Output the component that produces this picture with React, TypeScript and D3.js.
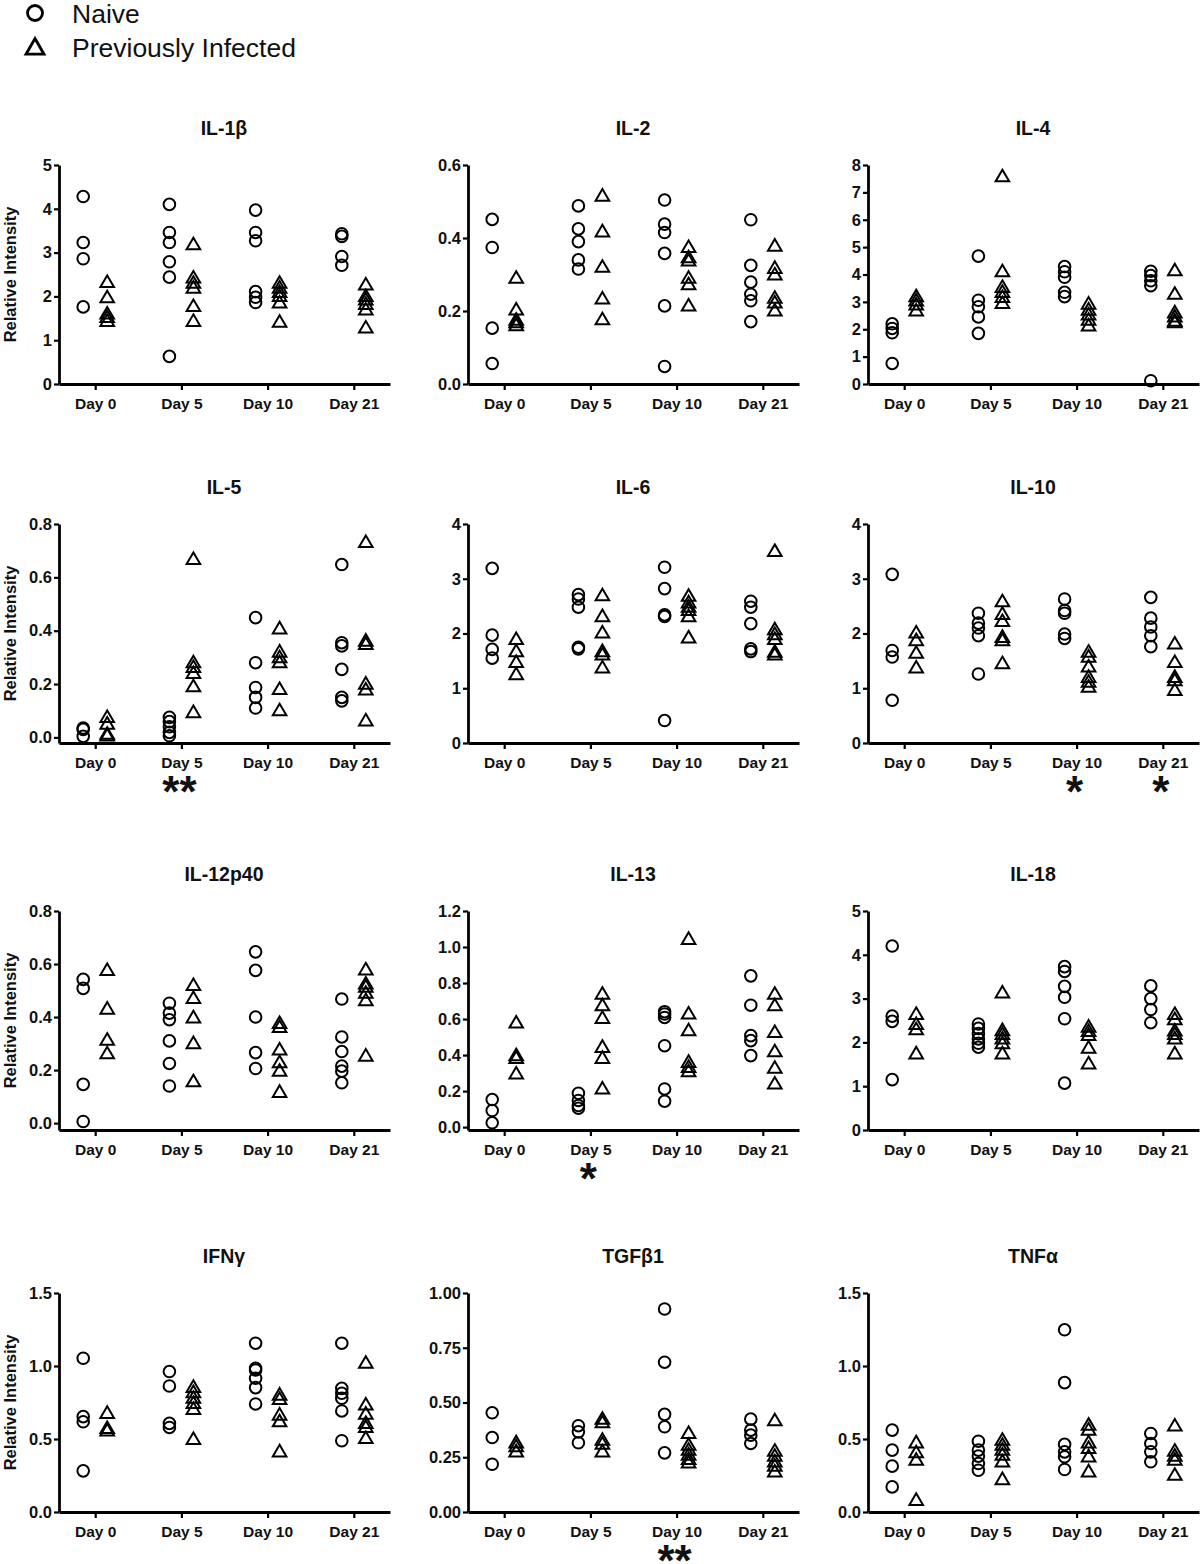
import React, { useEffect, useRef } from 'react';
import * as d3 from 'd3';

const DAYS = ['Day 0', 'Day 5', 'Day 10', 'Day 21'];
const GROUPS = ['Naive', 'Previously Infected'];

// values per day: [Day 0, Day 5, Day 10, Day 21]
const IL1B_NAIVE = [[4.28, 3.23, 2.86, 1.76], [4.10, 3.46, 3.23, 2.79, 2.44, 0.63], [3.97, 3.46, 3.27, 2.11, 1.98, 1.86], [3.43, 3.37, 2.91, 2.71]];
const IL1B_PREV = [[2.32, 1.97, 1.6, 1.52, 1.43], [3.18, 2.42, 2.30, 2.19, 1.77, 1.43], [2.30, 2.19, 2.09, 2.0, 1.85, 1.41], [2.26, 2.0, 1.92, 1.82, 1.69, 1.28]];

const IL2_NAIVE = [[0.451, 0.374, 0.153, 0.056], [0.488, 0.425, 0.39, 0.34, 0.315], [0.504, 0.438, 0.415, 0.358, 0.214, 0.048], [0.45, 0.325, 0.279, 0.246, 0.228, 0.171]];
const IL2_PREV = [[0.29, 0.203, 0.175, 0.168, 0.16], [0.515, 0.417, 0.32, 0.233, 0.176], [0.374, 0.346, 0.337, 0.29, 0.272, 0.214], [0.378, 0.317, 0.299, 0.235, 0.222, 0.2]];

const IL4_NAIVE = [[2.2, 2.03, 1.87, 0.75], [4.67, 3.06, 2.82, 2.45, 1.85], [4.29, 4.1, 3.9, 3.35, 3.19], [4.12, 3.96, 3.77, 3.59, 0.12]];
const IL4_PREV = [[3.19, 3.04, 2.89, 2.67], [7.57, 4.1, 3.53, 3.35, 3.16, 2.94], [2.92, 2.70, 2.52, 2.33, 2.12], [4.14, 3.28, 2.6, 2.45, 2.3, 2.24]];

const IL5_NAIVE = [[0.035, 0.03, 0.004], [0.075, 0.059, 0.04, 0.019, 0.006], [0.449, 0.28, 0.187, 0.15, 0.11], [0.648, 0.355, 0.343, 0.255, 0.15, 0.137]];
const IL5_PREV = [[0.075, 0.05, 0.012, 0.006], [0.667, 0.28, 0.262, 0.24, 0.19, 0.093], [0.407, 0.32, 0.299, 0.28, 0.18, 0.1], [0.731, 0.361, 0.349, 0.2, 0.178, 0.062]];

const IL6_NAIVE = [[3.19, 1.97, 1.71, 1.55], [2.71, 2.63, 2.48, 1.75, 1.72], [3.21, 2.82, 2.34, 2.31, 0.41], [2.59, 2.48, 2.18, 1.72, 1.67]];
const IL6_PREV = [[1.89, 1.67, 1.47, 1.25], [2.69, 2.31, 2.01, 1.67, 1.61, 1.37], [2.68, 2.56, 2.48, 2.42, 2.31, 1.92], [3.5, 2.07, 1.98, 1.89, 1.66, 1.61]];

const IL10_NAIVE = [[3.08, 1.69, 1.57, 0.78], [2.37, 2.19, 2.1, 1.96, 1.26], [2.63, 2.42, 2.37, 1.99, 1.91], [2.66, 2.28, 2.12, 1.96, 1.76]];
const IL10_PREV = [[2.01, 1.87, 1.64, 1.37], [2.58, 2.35, 2.22, 1.93, 1.87, 1.45], [1.66, 1.57, 1.39, 1.2, 1.11, 1.02], [1.81, 1.47, 1.2, 1.14, 0.96]];

const IL12_NAIVE = [[0.542, 0.508, 0.146, 0.006], [0.452, 0.415, 0.39, 0.31, 0.225, 0.14], [0.646, 0.576, 0.4, 0.266, 0.206], [0.468, 0.325, 0.27, 0.215, 0.196, 0.152]];
const IL12_PREV = [[0.576, 0.43, 0.313, 0.262], [0.519, 0.47, 0.397, 0.3, 0.156], [0.376, 0.361, 0.276, 0.228, 0.196, 0.116], [0.578, 0.525, 0.513, 0.49, 0.462, 0.253]];

const IL13_NAIVE = [[0.153, 0.092, 0.024], [0.188, 0.148, 0.12, 0.105], [0.641, 0.628, 0.609, 0.452, 0.212, 0.144], [0.84, 0.677, 0.508, 0.48, 0.397]];
const IL13_PREV = [[0.578, 0.397, 0.382, 0.295], [0.738, 0.674, 0.604, 0.443, 0.382, 0.212], [1.043, 0.628, 0.535, 0.36, 0.332, 0.308], [0.738, 0.674, 0.526, 0.419, 0.327, 0.24]];

const IL18_NAIVE = [[4.2, 2.6, 2.48, 1.15], [2.42, 2.32, 2.2, 2.08, 1.98, 1.89], [3.73, 3.62, 3.28, 3.03, 2.54, 1.07], [3.29, 3.0, 2.75, 2.45]];
const IL18_PREV = [[2.64, 2.41, 2.29, 1.74], [3.13, 2.27, 2.18, 2.08, 1.97, 1.74], [2.35, 2.25, 2.16, 1.87, 1.51], [2.64, 2.52, 2.26, 2.18, 2.08, 1.74]];

const IFNG_NAIVE = [[1.053, 0.653, 0.618, 0.282], [0.962, 0.863, 0.607, 0.579], [1.156, 0.985, 0.973, 0.916, 0.852, 0.74], [1.156, 0.847, 0.813, 0.779, 0.692, 0.488]];
const IFNG_PREV = [[0.676, 0.572, 0.556], [0.854, 0.818, 0.779, 0.744, 0.703, 0.497], [0.801, 0.771, 0.664, 0.618, 0.412], [1.019, 0.733, 0.671, 0.607, 0.579, 0.504]];

const TGFB_NAIVE = [[0.453, 0.34, 0.218], [0.394, 0.366, 0.316], [0.927, 0.684, 0.446, 0.389, 0.27], [0.424, 0.374, 0.351, 0.313]];
const TGFB_PREV = [[0.316, 0.298, 0.275], [0.424, 0.408, 0.328, 0.31, 0.275], [0.359, 0.305, 0.282, 0.26, 0.24, 0.224], [0.417, 0.278, 0.255, 0.229, 0.209, 0.183]];

const TNFA_NAIVE = [[0.561, 0.424, 0.314, 0.172], [0.485, 0.424, 0.383, 0.332, 0.286], [1.248, 0.886, 0.463, 0.412, 0.378, 0.291], [0.538, 0.469, 0.412, 0.344]];
const TNFA_PREV = [[0.474, 0.406, 0.355, 0.08], [0.492, 0.458, 0.424, 0.39, 0.344, 0.222], [0.595, 0.561, 0.474, 0.435, 0.378, 0.275], [0.589, 0.417, 0.383, 0.355, 0.252]];

const TITLES = ['IL-1β', 'IL-2', 'IL-4', 'IL-5', 'IL-6', 'IL-10', 'IL-12p40', 'IL-13', 'IL-18', 'IFNγ', 'TGFβ1', 'TNFα'];
const NAIVE = [IL1B_NAIVE, IL2_NAIVE, IL4_NAIVE, IL5_NAIVE, IL6_NAIVE, IL10_NAIVE, IL12_NAIVE, IL13_NAIVE, IL18_NAIVE, IFNG_NAIVE, TGFB_NAIVE, TNFA_NAIVE];
const PREV = [IL1B_PREV, IL2_PREV, IL4_PREV, IL5_PREV, IL6_PREV, IL10_PREV, IL12_PREV, IL13_PREV, IL18_PREV, IFNG_PREV, TGFB_PREV, TNFA_PREV];

const Y_TICKS = [
  [0, 1, 2, 3, 4, 5],
  [0, 0.2, 0.4, 0.6],
  [0, 1, 2, 3, 4, 5, 6, 7, 8],
  [0, 0.2, 0.4, 0.6, 0.8],
  [0, 1, 2, 3, 4],
  [0, 1, 2, 3, 4],
  [0, 0.2, 0.4, 0.6, 0.8],
  [0, 0.2, 0.4, 0.6, 0.8, 1.0, 1.2],
  [0, 1, 2, 3, 4, 5],
  [0, 0.5, 1.0, 1.5],
  [0, 0.25, 0.5, 0.75, 1.0],
  [0, 0.5, 1.0, 1.5],
];
const Y_FORMATS = ['d', '.1f', 'd', '.1f', 'd', 'd', '.1f', '.1f', 'd', '.1f', '.2f', '.1f'];
const Y_MIN = [0, 0, 0, -0.021, 0, 0, -0.026, -0.016, 0, 0, 0, 0];

const SIG_PANELS = ['IL-5', 'IL-10', 'IL-10', 'IL-13', 'TGFβ1'];
const SIG_DAYS = ['Day 5', 'Day 10', 'Day 21', 'Day 5', 'Day 10'];
const SIG_LABELS = ['**', '*', '*', '*', '**'];

const FONT = "'Liberation Sans', Arial, sans-serif";
const COL_X = [59, 468, 868];
const ROW_TOP = [165, 524, 911, 1293];
const PLOT_W = 331;
const PLOT_H = 219;

const TRI = 'M0,-7L6.8,4.6L-6.8,4.6Z';
const TRI_BIG = 'M0,-9.5L9,6.2L-9,6.2Z';

export default function App() {
  const ref = useRef<SVGSVGElement>(null);
  useEffect(() => {
    const svg = d3.select(ref.current);
    svg.selectAll('*').remove();
    svg.append('rect').attr('width', 1200).attr('height', 1564).attr('fill', '#fff');

    // legend
    const lg = svg.append('g');
    lg.append('circle').attr('cx', 35).attr('cy', 13).attr('r', 7.5)
      .attr('fill', 'none').attr('stroke', '#000').attr('stroke-width', 2.8);
    lg.append('path').attr('d', TRI_BIG).attr('transform', 'translate(35,48)')
      .attr('fill', 'none').attr('stroke', '#000').attr('stroke-width', 2.8).attr('stroke-linejoin', 'miter');
    GROUPS.forEach((g, i) => {
      lg.append('text').attr('x', 72).attr('y', 23 + i * 34).text(g)
        .attr('font-family', FONT).attr('font-size', 26.5).attr('fill', '#111');
    });

    TITLES.forEach((title, pi) => {
      const col = pi % 3;
      const row = Math.floor(pi / 3);
      const x0 = COL_X[col];
      const top = ROW_TOP[row];
      const bottom = top + PLOT_H;
      const ticks = Y_TICKS[pi];
      const yMax = ticks[ticks.length - 1];
      const y = d3.scaleLinear().domain([Y_MIN[pi], yMax]).range([bottom, top]);
      const x = d3.scalePoint<string>().domain(DAYS).range([x0, x0 + PLOT_W]).padding(0.42);
      const g = svg.append('g');

      // title
      g.append('text').attr('x', x0 + 165).attr('y', top - 30).attr('text-anchor', 'middle')
        .attr('font-family', FONT).attr('font-weight', 'bold').attr('font-size', 19.5).attr('fill', '#111')
        .text(title);

      // y axis
      const ya = g.append('g').attr('transform', `translate(${x0},0)`)
        .call(d3.axisLeft(y).tickValues(ticks).tickFormat(d3.format(Y_FORMATS[pi]) as any).tickSize(5).tickSizeOuter(0).tickPadding(2));
      ya.select('.domain').attr('stroke', '#000').attr('stroke-width', 2.8);
      ya.selectAll('.tick line').attr('stroke', '#000').attr('stroke-width', 2.2);
      ya.selectAll('.tick text').attr('font-family', FONT).attr('font-weight', 'bold').attr('font-size', 16.5).attr('fill', '#111');

      // x axis
      const xa = g.append('g').attr('transform', `translate(0,${bottom})`)
        .call(d3.axisBottom(x).tickSize(6).tickSizeOuter(0).tickPadding(8));
      xa.select('.domain').attr('stroke', '#000').attr('stroke-width', 2.8);
      xa.selectAll('.tick line').attr('stroke', '#000').attr('stroke-width', 2.2);
      xa.selectAll('.tick text').attr('font-family', FONT).attr('font-weight', 'bold').attr('font-size', 15.5).attr('fill', '#111');

      if (col === 0) {
        g.append('text').attr('transform', `translate(16,${(top + bottom) / 2}) rotate(-90)`)
          .attr('text-anchor', 'middle').attr('font-family', FONT).attr('font-weight', 'bold')
          .attr('font-size', 16.5).attr('fill', '#111').text('Relative Intensity');
      }

      // points
      DAYS.forEach((d, di) => {
        const cx = x(d)!;
        NAIVE[pi][di].forEach((v) => {
          g.append('circle').attr('cx', cx - 12).attr('cy', y(v)).attr('r', 5.8)
            .attr('fill', 'none').attr('stroke', '#000').attr('stroke-width', 2);
        });
        PREV[pi][di].forEach((v) => {
          g.append('path').attr('d', TRI).attr('transform', `translate(${cx + 12},${y(v)})`)
            .attr('fill', 'none').attr('stroke', '#000').attr('stroke-width', 2);
        });
      });

      // significance
      SIG_PANELS.forEach((p, si) => {
        if (p !== title) return;
        g.append('text').attr('x', x(SIG_DAYS[si])! - 2).attr('y', bottom + 64)
          .attr('text-anchor', 'middle').attr('font-family', FONT).attr('font-weight', 'bold')
          .attr('font-size', 44).attr('fill', '#111').text(SIG_LABELS[si]);
      });
    });
  }, []);
  return <svg ref={ref} width={1200} height={1564} style={{ position: 'absolute', left: 0, top: 0 }} />;
}
